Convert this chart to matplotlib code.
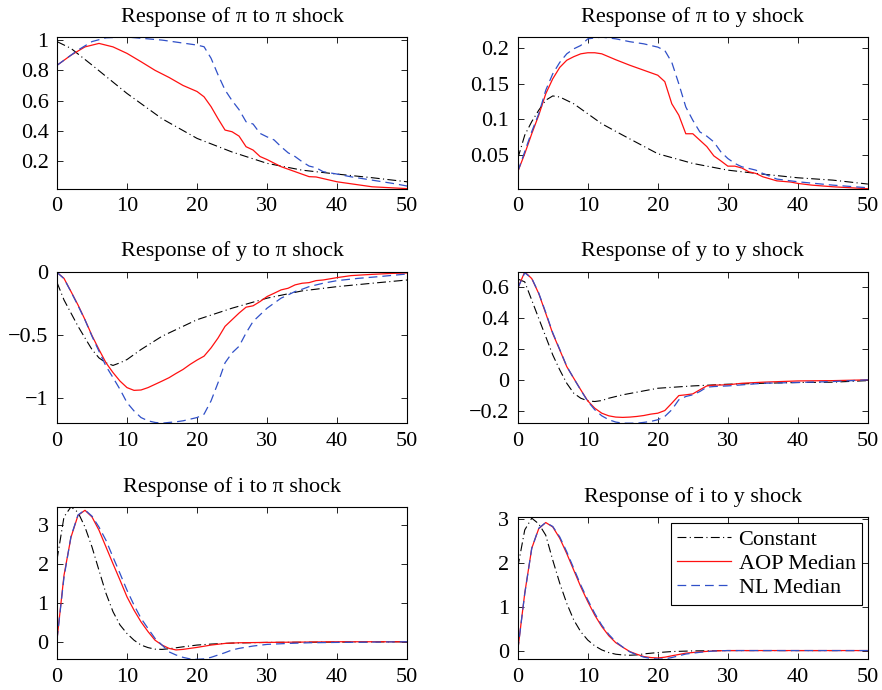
import numpy as np
import matplotlib
matplotlib.use('Agg')
import matplotlib.pyplot as plt
from matplotlib.ticker import FuncFormatter

plt.rcParams['font.family'] = ['Liberation Serif', 'DejaVu Serif']
plt.rcParams['font.size'] = 16

# %% data (horizon 0..50)
# --- Response of pi to pi shock
pp_c_x = [0, 2, 5, 10, 15, 20, 25, 30, 35, 40, 45, 50]
pp_c_y = [0.99, 0.945, 0.835, 0.647, 0.48, 0.35, 0.26, 0.185, 0.14, 0.114, 0.09, 0.063]
pp_a_x = [0, 2, 4, 6, 8, 10, 12, 14, 16, 18, 19, 20, 21, 22, 23, 24, 25, 26, 27, 28, 29, 30,
          32, 34, 36, 37, 40, 45, 50]
pp_a_y = [0.833, 0.90, 0.955, 0.978, 0.955, 0.912, 0.857, 0.80, 0.753, 0.70, 0.68, 0.66, 0.625,
          0.56, 0.48, 0.405, 0.394, 0.365, 0.295, 0.273, 0.23, 0.21, 0.163, 0.13, 0.097, 0.095,
          0.063, 0.03, 0.018]
pp_n_x = [0, 3, 5, 7, 10, 15, 20, 21, 22, 23, 24, 25, 26, 27, 28, 29, 30, 31, 32, 33, 34, 35,
          36, 37, 38, 40, 42, 45, 48, 50]
pp_n_y = [0.833, 0.934, 0.99, 1.015, 1.02, 1.0, 0.967, 0.956, 0.88, 0.77, 0.67, 0.60, 0.54, 0.46,
          0.445, 0.383, 0.36, 0.34, 0.295, 0.255, 0.23, 0.196, 0.167, 0.156, 0.13, 0.114, 0.096,
          0.074, 0.052, 0.035]

# --- Response of pi to y shock
py_c_x = [0, 1, 2, 3, 4, 5, 6, 8, 10, 12, 15, 20, 25, 30, 35, 40, 45, 50]
py_c_y = [0.045, 0.078, 0.097, 0.113, 0.127, 0.133, 0.1315, 0.122, 0.108, 0.094, 0.078, 0.052,
          0.0384, 0.029, 0.0234, 0.0183, 0.015, 0.0095]
py_a_x = [0, 1, 2, 3, 4, 5, 6, 7, 8, 9, 10, 11, 12, 14, 16, 18, 20, 21, 22, 23, 24, 25, 26, 27,
          28, 29, 30, 31, 32, 33, 34, 35, 37, 39, 40, 42, 45, 50]
py_a_y = [0.0267, 0.052, 0.08, 0.106, 0.136, 0.157, 0.173, 0.183, 0.188, 0.192, 0.1935, 0.1935,
          0.192, 0.1837, 0.176, 0.169, 0.162, 0.153, 0.122, 0.106, 0.080, 0.080, 0.071, 0.062,
          0.049, 0.042, 0.0346, 0.0346, 0.032, 0.0267, 0.0244, 0.0197, 0.014, 0.0123, 0.0104,
          0.008, 0.0057, 0.003]
py_n_x = [0, 1, 2, 3, 4, 5, 6, 7, 8, 9, 10, 12, 14, 16, 18, 20, 21, 22, 23, 24, 25, 26, 27, 28,
          29, 30, 31, 32, 33, 34, 35, 37, 40, 45, 50]
py_n_y = [0.0267, 0.055, 0.083, 0.108, 0.141, 0.164, 0.18, 0.192, 0.199, 0.2037, 0.213, 0.2154,
          0.213, 0.209, 0.206, 0.2014, 0.1967, 0.18, 0.15, 0.1175, 0.0989, 0.0826, 0.0766, 0.0686,
          0.0547, 0.0453, 0.0384, 0.0337, 0.0314, 0.029, 0.0244, 0.0165, 0.0127, 0.008, 0.0043]

# --- Response of y to pi shock
yp_c_x = [0, 1, 2, 3, 4, 5, 6, 7, 8, 9, 10, 12, 15, 20, 25, 30, 35, 40, 45, 50]
yp_c_y = [-0.08, -0.22, -0.325, -0.43, -0.524, -0.616, -0.683, -0.722, -0.743, -0.722, -0.696,
          -0.616, -0.51, -0.378, -0.286, -0.206, -0.148, -0.114, -0.087, -0.061]
yp_a_x = [0, 1, 2, 3, 4, 5, 6, 7, 8, 9, 10, 11, 12, 13, 14, 15, 16, 17, 18, 19, 20, 21, 22, 23,
          24, 25, 26, 27, 28, 29, 30, 31, 32, 33, 34, 35, 36, 37, 38, 40, 42, 45, 48, 50]
yp_a_y = [0.0, -0.048, -0.153, -0.26, -0.378, -0.505, -0.616, -0.722, -0.80, -0.868, -0.92,
          -0.942, -0.939, -0.92, -0.894, -0.868, -0.841, -0.807, -0.775, -0.735, -0.70, -0.669,
          -0.603, -0.524, -0.431, -0.378, -0.325, -0.278, -0.267, -0.233, -0.193, -0.167, -0.14,
          -0.127, -0.10, -0.087, -0.082, -0.066, -0.061, -0.042, -0.026, -0.016, -0.008, -0.005]
yp_n_x = [0, 1, 2, 3, 4, 5, 6, 7, 8, 9, 10, 11, 12, 13, 14, 15, 16, 17, 18, 19, 20, 21, 22, 23,
          24, 25, 26, 27, 28, 29, 30, 31, 32, 33, 34, 35, 36, 38, 40, 43, 46, 50]
yp_n_y = [0.0, -0.05, -0.155, -0.265, -0.38, -0.51, -0.63, -0.749, -0.84, -0.934, -1.04, -1.106,
          -1.159, -1.185, -1.198, -1.204, -1.198, -1.193, -1.185, -1.172, -1.159, -1.132, -1.026,
          -0.881, -0.722, -0.643, -0.59, -0.484, -0.392, -0.339, -0.286, -0.246, -0.206, -0.18,
          -0.153, -0.135, -0.114, -0.087, -0.066, -0.048, -0.034, -0.013]

# --- Response of y to y shock
yy_c_x = [0, 1, 2, 3, 4, 5, 6, 7, 8, 9, 10, 11, 12, 13, 15, 20, 25, 30, 35, 40, 45, 50]
yy_c_y = [0.65, 0.632, 0.515, 0.397, 0.28, 0.163, 0.067, -0.019, -0.083, -0.115, -0.132, -0.136,
          -0.13, -0.115, -0.093, -0.051, -0.036, -0.025, -0.019, -0.014, -0.012, -0.002]
yy_a_x = [0, 1, 2, 3, 4, 5, 6, 7, 8, 9, 10, 11, 12, 13, 14, 15, 16, 17, 18, 19, 20, 21, 22, 23,
          24, 25, 26, 27, 28, 30, 32, 35, 40, 45, 50]
yy_a_y = [0.59, 0.696, 0.653, 0.557, 0.43, 0.30, 0.195, 0.088, 0.013, -0.061, -0.132, -0.179,
          -0.211, -0.228, -0.236, -0.238, -0.236, -0.232, -0.226, -0.217, -0.211, -0.194, -0.147,
          -0.098, -0.093, -0.087, -0.061, -0.036, -0.031, -0.029, -0.019, -0.012, -0.004, -0.002,
          0.003]
yy_n_x = [0, 1, 2, 3, 4, 5, 6, 7, 8, 9, 10, 11, 12, 13, 14, 15, 16, 17, 18, 19, 20, 21, 22, 23,
          24, 25, 26, 27, 28, 30, 35, 40, 45, 50]
yy_n_y = [0.59, 0.69, 0.655, 0.56, 0.435, 0.305, 0.198, 0.09, 0.012, -0.063, -0.135, -0.189,
          -0.228, -0.253, -0.268, -0.275, -0.275, -0.275, -0.27, -0.264, -0.253, -0.232, -0.189,
          -0.125, -0.104, -0.093, -0.072, -0.044, -0.04, -0.036, -0.019, -0.014, -0.008, 0.003]

# --- Response of i to pi shock
ip_c_x = [0, 1, 2, 3, 4, 5, 6, 7, 8, 9, 10, 11, 12, 13, 14, 15, 16, 18, 20, 22, 25, 30, 40, 50]
ip_c_y = [2.1, 3.2, 3.46, 3.32, 2.94, 2.43, 1.83, 1.24, 0.77, 0.43, 0.21, 0.04, -0.085, -0.15,
          -0.19, -0.196, -0.18, -0.13, -0.085, -0.06, -0.034, -0.017, -0.009, 0.0]
ip_a_x = [0, 1, 2, 3, 4, 5, 6, 7, 8, 9, 10, 11, 12, 13, 14, 15, 16, 17, 18, 19, 20, 22, 24, 26,
          30, 35, 40, 50]
ip_a_y = [0.05, 1.70, 2.68, 3.24, 3.37, 3.2, 2.86, 2.43, 2.0, 1.58, 1.15, 0.81, 0.51, 0.26, 0.04,
          -0.085, -0.17, -0.21, -0.196, -0.17, -0.145, -0.085, -0.043, -0.026, -0.017, -0.009,
          0.0, 0.0]
ip_n_x = [0, 1, 2, 3, 4, 5, 6, 7, 8, 9, 10, 11, 12, 13, 14, 15, 16, 17, 18, 19, 20, 21, 22, 23,
          24, 25, 26, 28, 30, 33, 36, 40, 45, 50]
ip_n_y = [0.05, 1.65, 2.7, 3.25, 3.38, 3.22, 2.94, 2.6, 2.17, 1.75, 1.32, 0.94, 0.6, 0.34, 0.085,
          -0.085, -0.26, -0.34, -0.40, -0.44, -0.45, -0.44, -0.40, -0.34, -0.28, -0.21, -0.17,
          -0.11, -0.068, -0.043, -0.026, -0.017, -0.009, 0.0]

# --- Response of i to y shock
iy_c_x = [0, 1, 2, 3, 4, 5, 6, 7, 8, 9, 10, 11, 12, 13, 14, 15, 16, 17, 18, 20, 22, 25, 30, 50]
iy_c_y = [1.9, 2.76, 3.03, 2.9, 2.64, 2.07, 1.54, 1.08, 0.7, 0.43, 0.24, 0.107, 0.015, -0.046,
          -0.084, -0.1, -0.107, -0.1, -0.076, -0.046, -0.023, -0.008, 0.0, 0.0]
iy_a_x = [0, 1, 2, 3, 4, 5, 6, 7, 8, 9, 10, 11, 12, 13, 14, 15, 16, 17, 18, 19, 20, 21, 22, 24,
          26, 28, 30, 50]
iy_a_y = [0.0, 1.31, 2.34, 2.79, 2.93, 2.83, 2.57, 2.22, 1.84, 1.46, 1.12, 0.81, 0.55, 0.34, 0.18,
          0.076, -0.023, -0.084, -0.137, -0.16, -0.17, -0.152, -0.12, -0.06, -0.03, -0.008, 0.0,
          0.0]
iy_n_x = [0, 1, 2, 3, 4, 5, 6, 7, 8, 9, 10, 11, 12, 13, 14, 15, 16, 17, 18, 19, 20, 21, 22, 23,
          24, 26, 28, 30, 50]
iy_n_y = [0.0, 1.3, 2.34, 2.8, 2.93, 2.84, 2.6, 2.26, 1.88, 1.5, 1.16, 0.85, 0.58, 0.37, 0.2, 0.08,
          -0.03, -0.1, -0.15, -0.18, -0.195, -0.19, -0.16, -0.12, -0.08, -0.04, -0.01, 0.0, 0.0]

titles = ['Response of π to π shock', 'Response of π to y shock',
          'Response of y to π shock', 'Response of y to y shock',
          'Response of i to π shock', 'Response of i to y shock']
series = [(pp_c_x, pp_c_y, pp_a_x, pp_a_y, pp_n_x, pp_n_y),
          (py_c_x, py_c_y, py_a_x, py_a_y, py_n_x, py_n_y),
          (yp_c_x, yp_c_y, yp_a_x, yp_a_y, yp_n_x, yp_n_y),
          (yy_c_x, yy_c_y, yy_a_x, yy_a_y, yy_n_x, yy_n_y),
          (ip_c_x, ip_c_y, ip_a_x, ip_a_y, ip_n_x, ip_n_y),
          (iy_c_x, iy_c_y, iy_a_x, iy_a_y, iy_n_x, iy_n_y)]
ylims = [(0.015, 1.02), (0.0025, 0.2155), (-1.205, 0.005),
         (-0.276, 0.697), (-0.45, 3.46), (-0.2, 3.05)]
yticks = [[0.2, 0.4, 0.6, 0.8, 1], [0.05, 0.1, 0.15, 0.2], [-1, -0.5, 0],
          [-0.2, 0, 0.2, 0.4, 0.6], [0, 1, 2, 3], [0, 1, 2, 3]]

# axes boxes in figure fractions [left, bottom, width, height]
boxes = [[0.0646, 0.726, 0.397, 0.2203], [0.587, 0.726, 0.397, 0.2203],
         [0.0646, 0.3865, 0.397, 0.2197], [0.587, 0.3865, 0.397, 0.2197],
         [0.0646, 0.0445, 0.397, 0.221], [0.587, 0.0445, 0.397, 0.2058]]


def tick_fmt(v, pos):
    return ('%g' % v).replace('-', '\u2212')


fig = plt.figure(figsize=(8.82, 6.90), dpi=100)

for k in range(6):
    ax = fig.add_axes(boxes[k])
    cx, cy, ax_, ay, nx, ny = series[k]
    ax.plot(cx, cy, color='black', lw=0.8, linestyle=(0, (8, 3, 1, 3)), label='Constant')
    ax.plot(ax_, ay, color='#ff1010', lw=0.9, label='AOP Median')
    ax.plot(nx, ny, color='#3050c8', lw=0.9, linestyle=(0, (7, 4)), label='NL Median')
    ax.set_xlim(0, 50)
    ax.set_ylim(ylims[k])
    ax.set_xticks([0, 10, 20, 30, 40, 50])
    ax.set_yticks(yticks[k])
    ax.yaxis.set_major_formatter(FuncFormatter(tick_fmt))
    ax.tick_params(direction='in', length=4, width=0.6, top=True, right=True, pad=6)
    for s in ax.spines.values():
        s.set_linewidth(0.8)
    ax.set_title(titles[k], fontsize=16, pad=11)
    if k == 5:
        leg = ax.legend(loc='upper right', fontsize=16, frameon=True, fancybox=False,
                        edgecolor='black', framealpha=1, handlelength=2.4,
                        handletextpad=0.35, borderpad=0.3, labelspacing=0.15,
                        borderaxespad=0.25)
        leg.get_frame().set_linewidth(0.8)

fig.savefig('out.png', dpi=100)
